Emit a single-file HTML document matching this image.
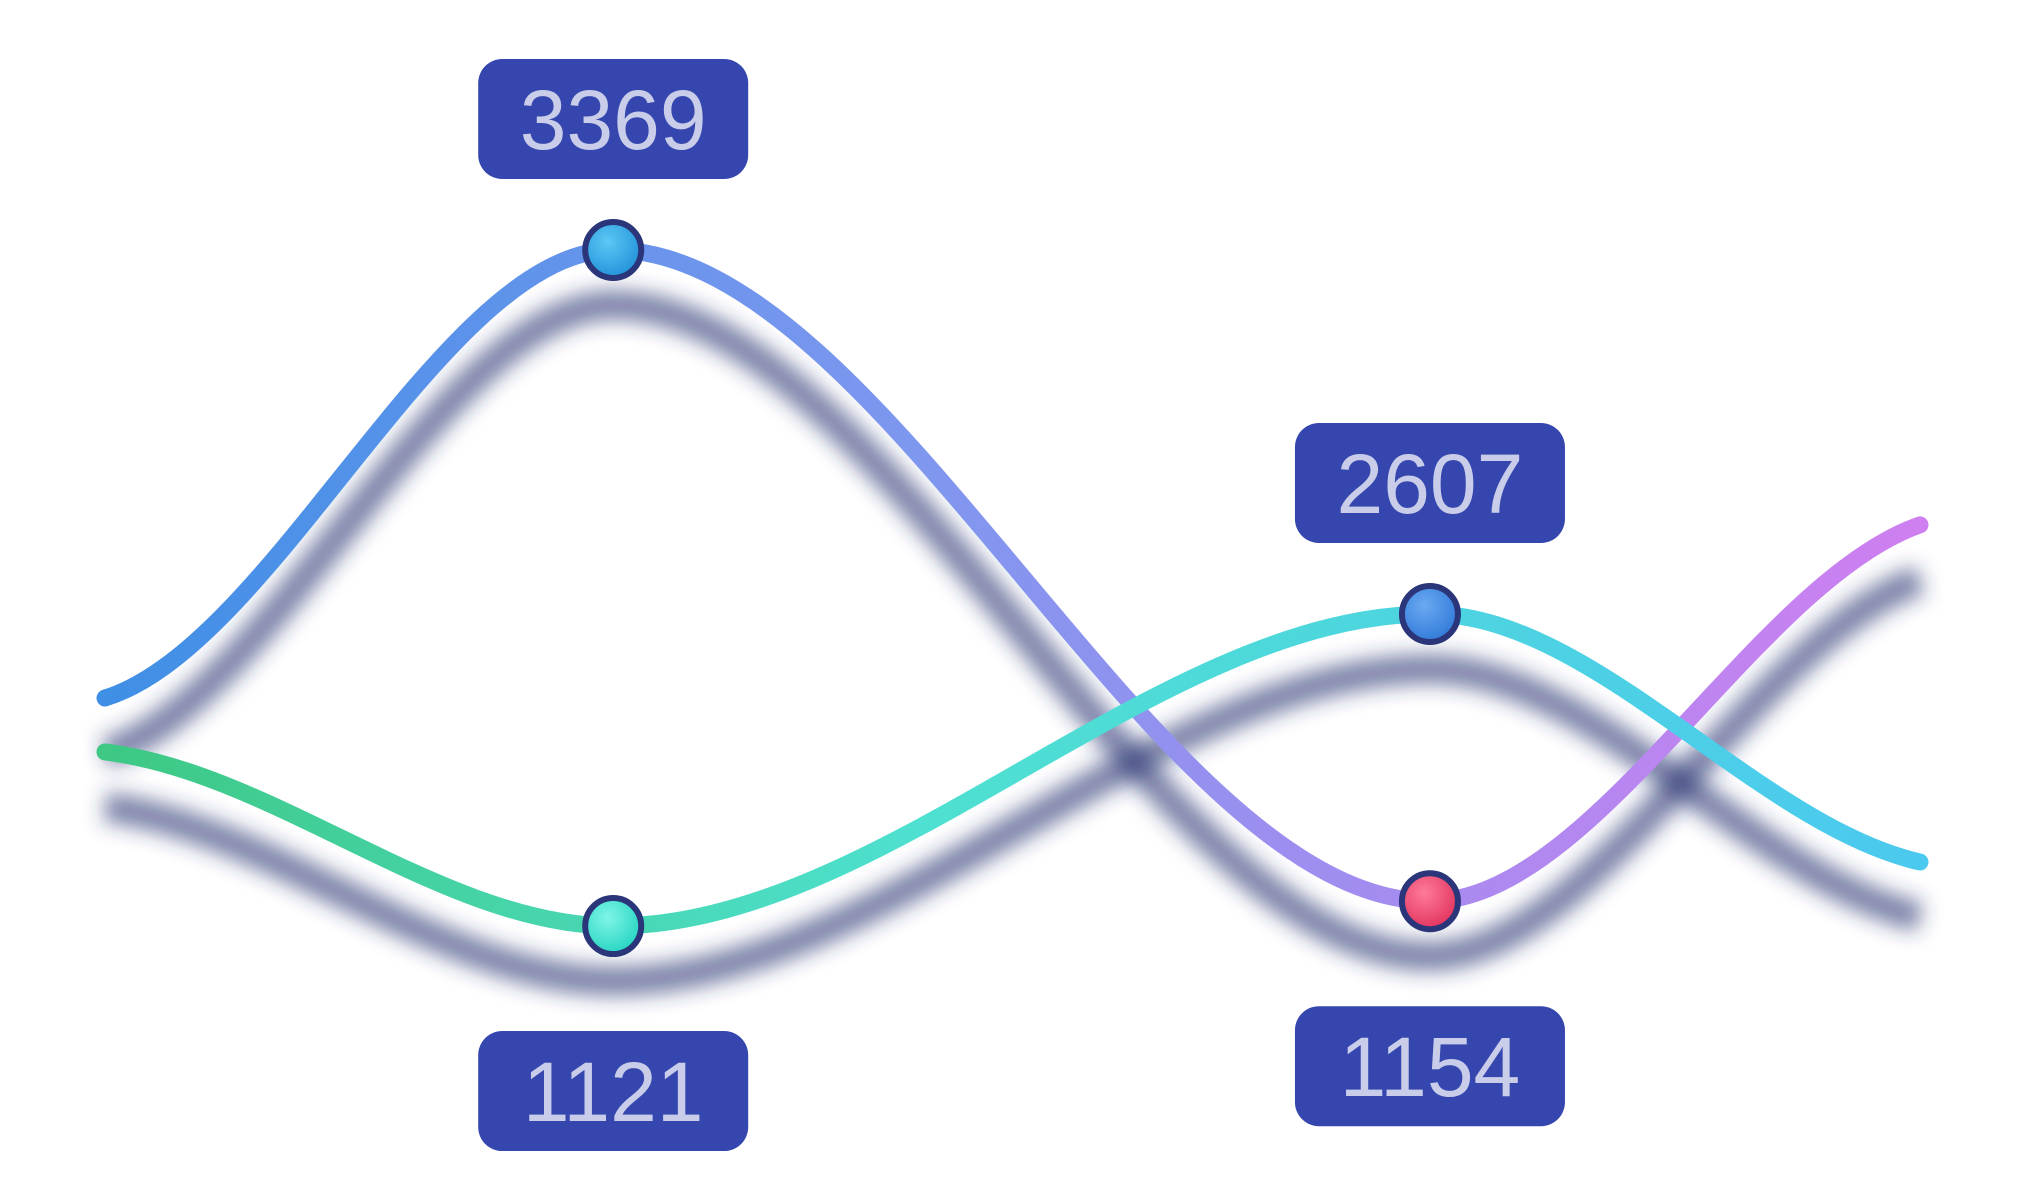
<!DOCTYPE html>
<html><head><meta charset="utf-8">
<style>
html,body{margin:0;padding:0;background:#fff;}
svg{display:block;}
text{font-family:"Liberation Sans","DejaVu Sans",sans-serif;}
</style></head>
<body>
<svg id="chart" width="2032" height="1200" viewBox="0 0 2032 1200" xmlns="http://www.w3.org/2000/svg">
<defs>
<linearGradient id="g1" x1="0" x2="1" y1="0" y2="0"><stop offset="0" stop-color="#3f8fe6"/><stop offset="0.45" stop-color="#7f97ef"/><stop offset="1" stop-color="#cf7ff0"/></linearGradient>
<linearGradient id="g2" x1="0" x2="1" y1="0" y2="0"><stop offset="0" stop-color="#3ec884"/><stop offset="0.45" stop-color="#4ee0d0"/><stop offset="1" stop-color="#4cc9ef"/></linearGradient>
<filter id="blur" x="-10%" y="-30%" width="120%" height="160%"><feGaussianBlur stdDeviation="10"/></filter>
<radialGradient id="mb" cx="0.4" cy="0.35" r="0.7"><stop offset="0" stop-color="#5cc8f5"/><stop offset="1" stop-color="#1f8fd8"/></radialGradient>
<radialGradient id="mt" cx="0.4" cy="0.35" r="0.7"><stop offset="0" stop-color="#7ff5e6"/><stop offset="1" stop-color="#22d3c0"/></radialGradient>
<radialGradient id="mb2" cx="0.4" cy="0.35" r="0.7"><stop offset="0" stop-color="#6aa9f2"/><stop offset="1" stop-color="#2e78d8"/></radialGradient>
<radialGradient id="mr" cx="0.4" cy="0.35" r="0.7"><stop offset="0" stop-color="#ff7a9a"/><stop offset="1" stop-color="#e0305a"/></radialGradient>
</defs>
<g id="shadows"></g>
<g id="lines"></g>
<g id="marks"></g>
</svg>
<script>
var xCats = [0, 28, 73, 100];
var series1 = [1845, 3369, 1154, 2434];
var series2 = [1950, 1121, 2607, 1426];
var labels1 = ["", "3369", "1154", ""];
var labels2 = ["", "1121", "2607", ""];

var NS = "http://www.w3.org/2000/svg";
function xS(v){ return 105 + v/100*1815; }
function y1(v){ return 250 + (3369 - v)*0.294; }
function y2(v){ return 614 + (2607 - v)*0.21; }
function pathFor(vals, yf){
  var pts = vals.map(function(v,i){ return [xS(xCats[i]), yf(v)]; });
  var n=pts.length, m=[];
  for (var i=0;i<n;i++){
    if (i===0) m.push(0.35*(pts[1][1]-pts[0][1])/(pts[1][0]-pts[0][0]));
    else if (i===n-1) m.push(0.45*(pts[i][1]-pts[i-1][1])/(pts[i][0]-pts[i-1][0]));
    else m.push(0);
  }
  var d = "M" + pts[0][0] + "," + pts[0][1];
  for (var i=1;i<n;i++){
    var a=pts[i-1], b=pts[i], dx=(b[0]-a[0])/3;
    d += " C" + (a[0]+dx) + "," + (a[1]+m[i-1]*dx) + " " + (b[0]-dx) + "," + (b[1]-m[i]*dx) + " " + b[0] + "," + b[1];
  }
  return d;
}
function mk(tag, attrs, parent){
  var e=document.createElementNS(NS,tag);
  for (var k in attrs) e.setAttribute(k, attrs[k]);
  parent.appendChild(e); return e;
}
var sh=document.getElementById("shadows"), ln=document.getElementById("lines"), mg=document.getElementById("marks");
[[series1,y1,"url(#g1)","series-1"],[series2,y2,"url(#g2)","series-2"]].forEach(function(s){
  var d=pathFor(s[0],s[1]);
  var p=mk("path",{d:d,fill:"none",stroke:"#2a3270","stroke-width":30,"stroke-opacity":0.6,filter:"url(#blur)",transform:"translate(0,55)"},sh);
  
  
  var l=mk("path",{d:d,fill:"none",stroke:s[2],"stroke-width":17,"stroke-linecap":"round"},ln);
  
  
});
function marker(x,y,fill,name){
  var c=mk("circle",{cx:x,cy:y,r:28,fill:fill,stroke:"#2b3579","stroke-width":6},mg);
  
  
}
function label(cx,cy,txt,name){
  var g=mk("g",{},mg);
  
  
  mk("rect",{x:cx-135,y:cy-60,width:270,height:120,rx:24,fill:"#3547ae"},g);
  var t=mk("text",{x:cx,y:cy+30,"text-anchor":"middle","font-size":84,fill:"#c9cde9"},g);
  t.textContent=txt;
}
var fills1=["","url(#mb)","url(#mr)",""], fills2=["","url(#mt)","url(#mb2)",""];
for (var i=0;i<xCats.length;i++){
  if (labels1[i]){
    var x=xS(xCats[i]), y=y1(series1[i]);
    marker(x,y,fills1[i],"series-1-point-"+i);
    label(x, series1[i]>2000 ? y-131 : y+165, labels1[i], "value-label-"+labels1[i]);
  }
  if (labels2[i]){
    var x2=xS(xCats[i]), yy=y2(series2[i]);
    marker(x2,yy,fills2[i],"series-2-point-"+i);
    label(x2, series2[i]>2000 ? yy-131 : yy+165, labels2[i], "value-label-"+labels2[i]);
  }
}
</script>
</body></html>
